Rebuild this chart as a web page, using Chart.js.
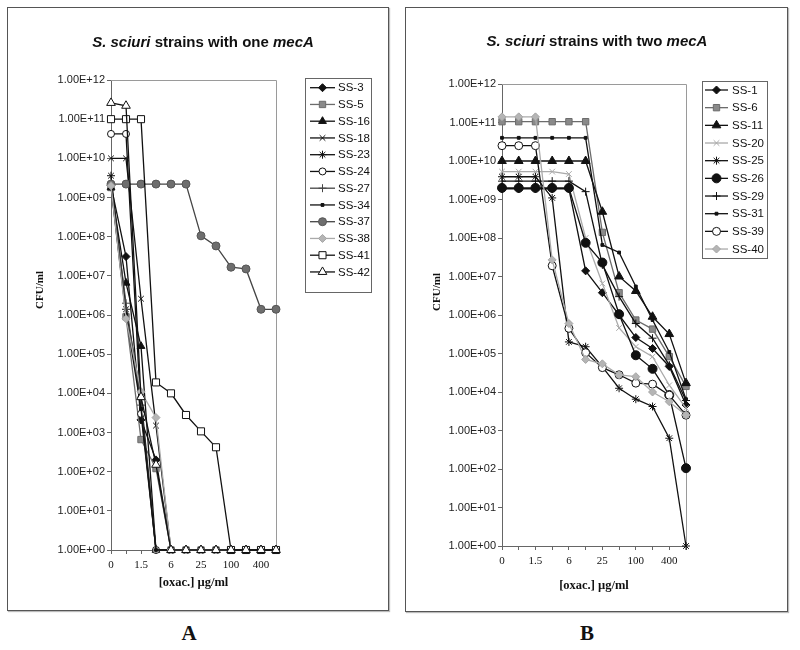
<!DOCTYPE html>
<html>
<head>
<meta charset="utf-8">
<script src="https://cdn.jsdelivr.net/npm/chart.js@4.4.1/dist/chart.umd.min.js"></script>
<style>
  body { margin: 0; background: #fff; width: 800px; height: 650px; position: relative; overflow: hidden; }
  .frame { position: absolute; border: 1px solid #555; box-sizing: border-box; box-shadow: 1px 1px 1px #bbb; }
  canvas { position: absolute; }
  .tag { position: absolute; font: bold 21px "Liberation Serif", "DejaVu Serif", serif; color: #111;
         transform: translate(-50%, -50%); line-height: 1; }
</style>
</head>
<body>
<div class="frame" style="left:7px;top:7px;width:382px;height:604px"></div>
<div class="frame" style="left:405px;top:7px;width:383px;height:605px"></div>
<canvas id="chartA" style="left:8px;top:8px"></canvas>
<canvas id="chartB" style="left:406px;top:8px"></canvas>
<div class="tag" style="left:189px;top:633px">A</div>
<div class="tag" style="left:587px;top:633px">B</div>

<script>
// oxacillin concentrations (only every other one is labelled on the axis)
const doses = ['0', '0.75', '1.5', '3', '6', '12.5', '25', '50', '100', '200', '400', '800'];
const yTicks = [1e0, 1e1, 1e2, 1e3, 1e4, 1e5, 1e6, 1e7, 1e8, 1e9, 1e10, 1e11, 1e12];

// panel A: strains with one mecA (CFU/ml, 1 = nothing grown)
const A_SS3  = [2.0e9, 3.1e7, 2.1e3, 2.0e2, 1, 1, 1, 1, 1, 1, 1, 1];
const A_SS5  = [1.8e9, 9.0e5, 6.6e2, 1.2e2, 1, 1, 1, 1, 1, 1, 1, 1];
const A_SS16 = [1.8e9, 6.6e6, 1.6e5, 1, 1, 1, 1, 1, 1, 1, 1, 1];
const A_SS18 = [1.0e10, 1.0e10, 2.6e6, 1.5e3, 1, 1, 1, 1, 1, 1, 1, 1];
const A_SS23 = [3.6e9, 1.4e6, 8.0e3, 1, 1, 1, 1, 1, 1, 1, 1, 1];
const A_SS24 = [4.2e10, 4.2e10, 3.0e3, 1, 1, 1, 1, 1, 1, 1, 1, 1];
const A_SS27 = [2.0e9, 2.0e6, 5.0e3, 1, 1, 1, 1, 1, 1, 1, 1, 1];
const A_SS34 = [2.0e9, 1.0e6, 4.0e3, 1, 1, 1, 1, 1, 1, 1, 1, 1];
const A_SS37 = [2.2e9, 2.2e9, 2.2e9, 2.2e9, 2.2e9, 2.2e9, 1.05e8, 5.8e7, 1.66e7, 1.5e7, 1.4e6, 1.4e6];
const A_SS38 = [2.0e9, 8.0e5, 1.1e4, 2.4e3, 1, 1, 1, 1, 1, 1, 1, 1];
const A_SS41 = [1.0e11, 1.0e11, 1.0e11, 1.9e4, 1.0e4, 2.8e3, 1.07e3, 4.2e2, 1, 1, 1, 1];
const A_SS42 = [2.6e11, 2.2e11, 8.0e3, 1.5e2, 1, 1, 1, 1, 1, 1, 1, 1];

// panel B: strains with two mecA
const B_SS1  = [1.9e9, 1.9e9, 1.9e9, 1.9e9, 1.9e9, 1.4e7, 3.8e6, 1.0e6, 2.6e5, 1.35e5, 4.6e4, 4.6e3];
const B_SS6  = [1.05e11, 1.05e11, 1.05e11, 1.05e11, 1.05e11, 1.05e11, 1.4e8, 3.8e6, 7.4e5, 4.3e5, 8.3e4, 1.4e4];
const B_SS11 = [1.0e10, 1.0e10, 1.0e10, 1.0e10, 1.0e10, 1.0e10, 4.8e8, 1.0e7, 4.2e6, 9.0e5, 3.2e5, 1.7e4];
const B_SS20 = [5.3e9, 5.3e9, 5.3e9, 5.3e9, 4.6e9, 1.0e8, 6.6e6, 4.6e5, 1.5e5, 8.3e4, 1.5e4, 3.8e3];
const B_SS25 = [3.9e9, 3.9e9, 3.9e9, 1.1e9, 2.0e5, 1.5e5, 4.5e4, 1.25e4, 6.5e3, 4.2e3, 6.3e2, 1];
const B_SS26 = [2.0e9, 2.0e9, 2.0e9, 2.0e9, 2.0e9, 7.5e7, 2.3e7, 1.05e6, 9.0e4, 4.0e4, 8.3e3, 1.05e2];
const B_SS29 = [3.0e9, 3.0e9, 3.0e9, 3.0e9, 3.0e9, 1.6e9, 2.0e7, 3.0e6, 6.0e5, 2.5e5, 5.0e4, 6.0e3];
const B_SS31 = [4.0e10, 4.0e10, 4.0e10, 4.0e10, 4.0e10, 4.0e10, 6.6e7, 4.2e7, 5.5e6, 7.4e5, 1.1e5, 6.5e3];
const B_SS39 = [2.5e10, 2.5e10, 2.5e10, 1.9e7, 4.5e5, 1.05e5, 4.3e4, 2.8e4, 1.7e4, 1.6e4, 8.3e3, 2.5e3];
const B_SS40 = [1.4e11, 1.4e11, 1.4e11, 2.7e7, 6.0e5, 7.0e4, 5.4e4, 2.8e4, 2.5e4, 1.0e4, 5.6e3, 2.5e3];

const BLACK = '#111', GREY = '#6c6c6c', GREYFILL = '#8a8a8a', LIGHT = '#aaaaaa', WHITE = '#fff';

function series(label, data, line, ps, r, fill, edge) {
  return { label, data, line, ps, r, fill, edge };
}

const seriesA = [
  series('SS-3',  A_SS3,  BLACK, 'rectRot', 4, BLACK, BLACK),
  series('SS-5',  A_SS5,  GREY, 'rect', 4.5, GREYFILL, GREY),
  series('SS-16', A_SS16, BLACK, 'triangle', 4.5, BLACK, BLACK),
  series('SS-18', A_SS18, BLACK, 'crossRot', 4, BLACK, BLACK),
  series('SS-23', A_SS23, BLACK, 'star', 4, BLACK, BLACK),
  series('SS-24', A_SS24, BLACK, 'circle', 3.5, WHITE, BLACK),
  series('SS-27', A_SS27, '#444', 'cross', 4, '#444', '#444'),
  series('SS-34', A_SS34, BLACK, 'rect', 2, BLACK, BLACK),
  series('SS-37', A_SS37, '#444', 'circle', 4, '#6e6e6e', '#555'),
  series('SS-38', A_SS38, LIGHT, 'rectRot', 4, '#b5b5b5', '#a5a5a5'),
  series('SS-41', A_SS41, BLACK, 'rect', 5, WHITE, BLACK),
  series('SS-42', A_SS42, BLACK, 'triangle', 5, WHITE, BLACK)
];

const seriesB = [
  series('SS-1',  B_SS1,  BLACK, 'rectRot', 4, BLACK, BLACK),
  series('SS-6',  B_SS6,  GREY, 'rect', 4.5, GREYFILL, GREY),
  series('SS-11', B_SS11, BLACK, 'triangle', 5, BLACK, BLACK),
  series('SS-20', B_SS20, LIGHT, 'crossRot', 4, LIGHT, LIGHT),
  series('SS-25', B_SS25, BLACK, 'star', 4, BLACK, BLACK),
  series('SS-26', B_SS26, BLACK, 'circle', 4.5, BLACK, BLACK),
  series('SS-29', B_SS29, BLACK, 'cross', 4, BLACK, BLACK),
  series('SS-31', B_SS31, BLACK, 'rect', 2, BLACK, BLACK),
  series('SS-39', B_SS39, BLACK, 'circle', 4, WHITE, BLACK),
  series('SS-40', B_SS40, LIGHT, 'rectRot', 4, '#b5b5b5', '#a5a5a5')
];

const fmtE = v => '1.00E+' + String(Math.round(Math.log10(v))).padStart(2, '0');

// frame around the plot, title with italics, rotated y label and boxed legend
const decor = {
  id: 'decor',
  beforeDatasetsDraw(chart) {
    const { ctx, chartArea: a } = chart;
    ctx.save();
    ctx.strokeStyle = '#9a9a9a';
    ctx.lineWidth = 1;
    ctx.beginPath();
    ctx.moveTo(a.left, Math.round(a.top) + 0.5);
    ctx.lineTo(Math.round(a.right) + 0.5, Math.round(a.top) + 0.5);
    ctx.lineTo(Math.round(a.right) + 0.5, a.bottom);
    ctx.stroke();
    ctx.restore();
  },
  afterDraw(chart, args, o) {
    const ctx = chart.ctx;
    ctx.save();
    ctx.textBaseline = 'middle';
    ctx.fillStyle = '#111';

    const tfont = it => (it ? 'italic ' : '') + 'bold 15px "Liberation Sans", Arial, sans-serif';
    const parts = o.title.map(([t, it]) => {
      ctx.font = tfont(it);
      return { t, it, w: ctx.measureText(t).width };
    });
    let x = o.titleX - parts.reduce((s, p) => s + p.w, 0) / 2;
    ctx.textAlign = 'left';
    parts.forEach(p => { ctx.font = tfont(p.it); ctx.fillText(p.t, x, o.titleY); x += p.w; });

    ctx.save();
    ctx.translate(o.yLabelX, o.yLabelY);
    ctx.rotate(-Math.PI / 2);
    ctx.textAlign = 'center';
    ctx.font = 'bold 11px "Liberation Serif", serif';
    ctx.fillText('CFU/ml', 0, 0);
    ctx.restore();

    const L = o.legend;
    ctx.strokeStyle = '#666';
    ctx.lineWidth = 1;
    ctx.strokeRect(L.x + 0.5, L.y + 0.5, L.w, L.h);
    chart.data.datasets.forEach((ds, i) => {
      const y = L.row0 + i * L.step;
      ctx.strokeStyle = ds.borderColor;
      ctx.lineWidth = ds.borderWidth;
      ctx.beginPath();
      ctx.moveTo(L.x0, y);
      ctx.lineTo(L.x1, y);
      ctx.stroke();
      ctx.fillStyle = ds.pointBackgroundColor;
      ctx.strokeStyle = ds.pointBorderColor;
      ctx.lineWidth = 1;
      Chart.helpers.drawPoint(ctx, { pointStyle: ds.pointStyle, radius: ds.pointRadius, rotation: 0, borderWidth: 1 },
        (L.x0 + L.x1) / 2, y);
      ctx.fillStyle = '#111';
      ctx.font = '11.5px "Liberation Sans Narrow", "Liberation Sans", sans-serif';
      ctx.textAlign = 'left';
      ctx.fillText(ds.label, L.tx, y + 0.5);
    });
    ctx.restore();
  }
};

function makeChart(id, list, g) {
  const canvas = document.getElementById(id);
  canvas.width = g.w;
  canvas.height = g.h;
  const n = list.length;
  const datasets = list.map((s, i) => ({
    label: s.label,
    data: s.data,
    borderColor: s.line,
    borderWidth: 1.3,
    pointStyle: s.ps,
    pointRadius: s.r,
    pointHoverRadius: s.r,
    pointBackgroundColor: s.fill,
    pointBorderColor: s.edge,
    pointBorderWidth: 1,
    tension: 0,
    clip: false,
    order: n - i
  }));

  return new Chart(canvas, {
    type: 'line',
    data: { labels: doses, datasets },
    options: {
      responsive: false,
      animation: false,
      events: [],
      devicePixelRatio: 1,
      layout: { padding: { left: 0, top: g.top, right: g.w - g.right, bottom: 0 } },
      scales: {
        x: {
          type: 'category',
          offset: false,
          afterFit: s => { s.height = g.h - g.bottom; },
          grid: { drawOnChartArea: false, drawTicks: true, tickLength: 4, color: '#666' },
          border: { color: '#666' },
          ticks: {
            autoSkip: false, maxRotation: 0, padding: 5, color: '#111',
            font: { family: '"Liberation Serif", serif', size: 11 },
            callback: (v, i) => (i % 2 === 0 ? doses[i] : '')
          },
          title: {
            display: true, text: '[oxac.] µg/ml', color: '#111',
            font: { family: '"Liberation Serif", serif', size: 12.5, weight: 'bold' },
            padding: { top: 0, bottom: g.xTitlePad }
          }
        },
        y: {
          type: 'logarithmic',
          min: 1,
          max: 1e12,
          afterFit: s => { s.width = g.left; },
          afterBuildTicks: s => { s.ticks = yTicks.map(v => ({ value: v })); },
          grid: { drawOnChartArea: false, drawTicks: true, tickLength: 4, color: '#666' },
          border: { color: '#666' },
          ticks: {
            padding: 2, color: '#222',
            font: { family: '"Liberation Sans", Arial, sans-serif', size: 11 },
            callback: v => fmtE(v)
          }
        }
      },
      plugins: {
        legend: { display: false },
        tooltip: { enabled: false },
        decor: {
          title: g.title,
          titleX: g.titleX, titleY: g.titleY,
          yLabelX: g.yLabelX, yLabelY: g.yLabelY,
          legend: g.legend
        }
      }
    },
    plugins: [decor]
  });
}

makeChart('chartA', seriesA, {
  w: 380, h: 602, left: 103, right: 268, top: 72, bottom: 542, xTitlePad: 20,
  title: [['S. sciuri', true], [' strains with one ', false], ['mecA', true]],
  titleX: 195, titleY: 35, yLabelX: 32, yLabelY: 282,
  legend: { x: 297, y: 70, w: 66, h: 214, row0: 79.7, step: 16.75, x0: 302, x1: 327, tx: 330 }
});

makeChart('chartB', seriesB, {
  w: 381, h: 603, left: 96, right: 280, top: 76, bottom: 538, xTitlePad: 18,
  title: [['S. sciuri', true], [' strains with two ', false], ['mecA', true]],
  titleX: 191, titleY: 34, yLabelX: 31, yLabelY: 284,
  legend: { x: 296, y: 73, w: 65, h: 177, row0: 82, step: 17.67, x0: 299, x1: 322, tx: 326 }
});
</script>
</body>
</html>
